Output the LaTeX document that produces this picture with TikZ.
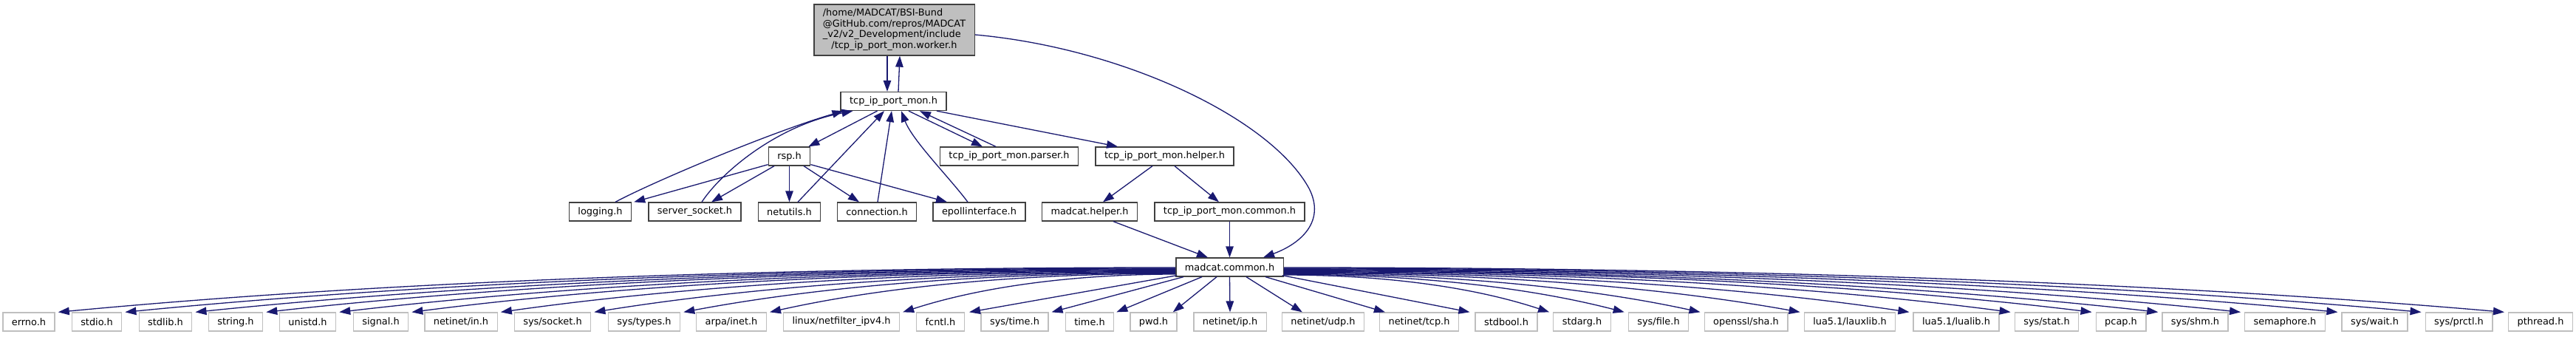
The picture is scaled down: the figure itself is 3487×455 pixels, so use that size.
\documentclass[tikz,border=0pt]{standalone}
\usepackage{fontspec}
\setmainfont{DejaVu Sans}
\usepackage{tikz}
\usetikzlibrary{arrows.meta}

\definecolor{edgeblue}{RGB}{25,25,112}
\definecolor{boxline}{RGB}{64,64,64}
\definecolor{sysline}{RGB}{191,191,191}
\definecolor{mainfill}{RGB}{191,191,191}

\tikzset{
  incbox/.style={draw=boxline, line width=1.3pt, fill=white, inner xsep=12pt, inner ysep=0pt,
    minimum height=25pt, font=\fontsize{12.9pt}{14.8pt}\selectfont},
  sysbox/.style={incbox, draw=sysline},
  mainbox/.style={incbox, fill=mainfill, minimum width=217pt, minimum height=69pt},
  incl/.style={draw=edgeblue, line width=1.3pt, -{Triangle[length=15pt,width=10.5pt]}},
}

\begin{document}
\begin{tikzpicture}[x=1pt, y=-1pt]
\useasboundingbox[fill=white] (0,0) rectangle (3487,455);

% Datei und direkte Includes
\node[mainbox] (worker) at (1210.5,40.5) {\begin{tabular}{@{}l@{}}/home/MADCAT/BSI-Bund\\@GitHub.com/repros/MADCAT\\\_v2/v2\_Development/include\\\multicolumn{1}{@{}c@{}}{/tcp\_ip\_port\_mon.worker.h}\end{tabular}};
\node[incbox] (tcp) at (1209.5,137) {tcp\_ip\_port\_mon.h};
\node[incbox] (rsp) at (1068.5,211.5) {rsp.h};
\node[incbox] (parser) at (1366,211.5) {tcp\_ip\_port\_mon.parser.h};
\node[incbox] (helper) at (1576.5,211.5) {tcp\_ip\_port\_mon.helper.h};
\node[incbox] (logging) at (812.5,286.5) {logging.h};
\node[incbox] (ssock) at (940.5,286.5) {server\_socket.h};
\node[incbox] (netutils) at (1068.5,286.5) {netutils.h};
\node[incbox] (connection) at (1187,286.5) {connection.h};
\node[incbox] (epoll) at (1325.5,286.5) {epollinterface.h};
\node[incbox] (mhelper) at (1475,286.5) {madcat.helper.h};
\node[incbox] (tcommon) at (1664.5,286.5) {tcp\_ip\_port\_mon.common.h};
\node[incbox] (mc) at (1664.5,361.5) {madcat.common.h};

% System-Header
\node[sysbox] (errno) at (39,435.5) {errno.h};
\node[sysbox] (stdio) at (131,435.5) {stdio.h};
\node[sysbox] (stdlib) at (224,435.5) {stdlib.h};
\node[sysbox] (string) at (319,435.5) {string.h};
\node[sysbox] (unistd) at (416.5,435.5) {unistd.h};
\node[sysbox] (signal) at (515.5,435.5) {signal.h};
\node[sysbox] (netin) at (624,435.5) {netinet/in.h};
\node[sysbox] (syssocket) at (748,435.5) {sys/socket.h};
\node[sysbox] (systypes) at (872,435.5) {sys/types.h};
\node[sysbox] (arpainet) at (990,435.5) {arpa/inet.h};
\node[sysbox] (netfilter) at (1139,435.5) {linux/netfilter\_ipv4.h};
\node[sysbox] (fcntl) at (1273,435.5) {fcntl.h};
\node[sysbox] (systime) at (1373.5,435.5) {sys/time.h};
\node[sysbox] (time) at (1475,435.5) {time.h};
\node[sysbox] (pwd) at (1561.5,435.5) {pwd.h};
\node[sysbox] (netip) at (1665,435.5) {netinet/ip.h};
\node[sysbox] (netudp) at (1791,435.5) {netinet/udp.h};
\node[sysbox] (nettcp) at (1921,435.5) {netinet/tcp.h};
\node[sysbox] (stdbool) at (2039,435.5) {stdbool.h};
\node[sysbox] (stdarg) at (2141.5,435.5) {stdarg.h};
\node[sysbox] (sysfile) at (2245,435.5) {sys/file.h};
\node[sysbox] (sha) at (2363.5,435.5) {openssl/sha.h};
\node[sysbox] (lauxlib) at (2504,435.5) {lua5.1/lauxlib.h};
\node[sysbox] (lualib) at (2648,435.5) {lua5.1/lualib.h};
\node[sysbox] (sysstat) at (2770.5,435.5) {sys/stat.h};
\node[sysbox] (pcap) at (2871,435.5) {pcap.h};
\node[sysbox] (sysshm) at (2971.5,435.5) {sys/shm.h};
\node[sysbox] (semaphore) at (3093,435.5) {semaphore.h};
\node[sysbox] (syswait) at (3214.5,435.5) {sys/wait.h};
\node[sysbox] (sysprctl) at (3328.5,435.5) {sys/prctl.h};
\node[sysbox] (pthread) at (3439,435.5) {pthread.h};

% worker <-> tcp_ip_port_mon.h
\draw[incl] ([xshift=-9.5pt]worker.south) -- ([xshift=-8.5pt]tcp.north);
\draw[incl] ([xshift=6.5pt]tcp.north) -- ([xshift=7.5pt]worker.south);
\draw[incl] ([yshift=-6.5pt]worker.east) .. controls (1520,65) and (1720,160) .. (1772,255) .. controls (1795,300) and (1760,330) .. ([xshift=45.5pt]mc.north);

% tcp_ip_port_mon.h
\draw[incl] ([xshift=-22pt]tcp.south) -- ([xshift=-3pt]rsp.north east);
\draw[incl] ([xshift=20.5pt]tcp.south) -- ([xshift=-36pt]parser.north);
\draw[incl] ([xshift=-18pt]parser.north) -- ([xshift=35.5pt]tcp.south);
\draw[incl] ([xshift=58.5pt]tcp.south) -- ([xshift=-63.5pt]helper.north);
\draw[incl] ([xshift=20.5pt]logging.north) .. controls (880,248) and (1040,180) .. ([xshift=4pt]tcp.south west);
\draw[incl] ([xshift=9.5pt]ssock.north) .. controls (975,235) and (1050,170) .. ([xshift=17pt]tcp.south west);
\draw[incl] ([xshift=11.5pt]netutils.north) -- ([xshift=-12.5pt]tcp.south);
\draw[incl] ([xshift=1pt]connection.north) -- ([xshift=-2.5pt]tcp.south);
\draw[incl] ([xshift=-15.5pt]epoll.north) .. controls (1285,240) and (1235,190) .. ([xshift=10.5pt]tcp.south);

% rsp.h
\draw[incl] ([yshift=2pt]rsp.south west) -- ([xshift=3pt]logging.north east);
\draw[incl] ([xshift=-20.5pt]rsp.south) -- ([xshift=22.5pt]ssock.north);
\draw[incl] (rsp.south) -- (netutils.north);
\draw[incl] ([xshift=19.5pt]rsp.south) -- ([xshift=-24pt]connection.north);
\draw[incl] ([yshift=2pt]rsp.south east) -- ([xshift=-43.5pt]epoll.north);

% helper -> madcat.common.h
\draw[incl] ([xshift=-16.5pt]helper.south) -- ([xshift=18pt]mhelper.north);
\draw[incl] ([xshift=13.5pt]helper.south) -- ([xshift=-14.5pt]tcommon.north);
\draw[incl] ([xshift=32pt]mhelper.south) -- ([xshift=-29.5pt]mc.north);
\draw[incl] (tcommon.south) -- (mc.north);

% madcat.common.h nach links
\draw[incl] ([yshift=-0.5pt]mc.west) .. controls +(-530,0) and +(455,-43) .. ([xshift=4pt]errno.north east);
\draw[incl] ([yshift=-1.4pt]mc.west) .. controls +(-498,0) and +(427,-42) .. ([xshift=4pt]stdio.north east);
\draw[incl] ([yshift=-2.3pt]mc.west) .. controls +(-465,0) and +(399,-41) .. ([xshift=4pt]stdlib.north east);
\draw[incl] ([yshift=-3.2pt]mc.west) .. controls +(-432,0) and +(370,-41) .. ([xshift=4pt]string.north east);
\draw[incl] ([yshift=-4.1pt]mc.west) .. controls +(-397,0) and +(341,-40) .. ([xshift=4pt]unistd.north east);
\draw[incl] ([yshift=-5pt]mc.west) .. controls +(-363,0) and +(311,-40) .. ([xshift=4pt]signal.north east);
\draw[incl] ([yshift=-5.9pt]mc.west) .. controls +(-321,0) and +(275,-39) .. ([xshift=4pt]netin.north east);
\draw[incl] ([yshift=-6.8pt]mc.west) .. controls +(-276,0) and +(236,-38) .. ([xshift=4pt]syssocket.north east);
\draw[incl] ([yshift=-7.7pt]mc.west) .. controls +(-234,0) and +(201,-38) .. ([xshift=4pt]systypes.north east);
\draw[incl] ([yshift=-8.6pt]mc.west) .. controls +(-194,0) and +(166,-37) .. ([xshift=4pt]arpainet.north east);
\draw[incl] ([yshift=-9.5pt]mc.west) .. controls +(-130,0) and +(111,-36) .. ([xshift=4pt]netfilter.north east);
\draw[incl] ([xshift=2pt,yshift=2pt]mc.south west) -- ([xshift=6pt]fcntl.north east);
\draw[incl] ([xshift=-62.5pt]mc.south) -- ([xshift=4pt]systime.north east);
\draw[incl] ([xshift=-37.5pt]mc.south) -- ([xshift=3pt]time.north east);
\draw[incl] ([xshift=-17.5pt]mc.south) -- ([xshift=-6pt]pwd.north east);

% madcat.common.h nach unten und rechts
\draw[incl] (mc.south) -- (netip.north);
\draw[incl] ([xshift=22.5pt]mc.south) -- ([xshift=28pt]netudp.north west);
\draw[incl] ([xshift=48.5pt]mc.south) -- ([xshift=8pt]nettcp.north west);
\draw[incl] ([xshift=-2pt,yshift=2pt]mc.south east) -- ([xshift=-7pt]stdbool.north west);
\draw[incl] ([yshift=-10.5pt]mc.east) .. controls +(127,0) and +(-109,-36) .. ([xshift=-5pt]stdarg.north west);
\draw[incl] ([yshift=-9.6pt]mc.east) .. controls +(162,0) and +(-139,-36) .. ([xshift=-5pt]sysfile.north west);
\draw[incl] ([yshift=-8.7pt]mc.east) .. controls +(198,0) and +(-170,-37) .. ([xshift=-5pt]sha.north west);
\draw[incl] ([yshift=-7.8pt]mc.east) .. controls +(246,0) and +(-211,-38) .. ([xshift=-5pt]lauxlib.north west);
\draw[incl] ([yshift=-6.9pt]mc.east) .. controls +(297,0) and +(-254,-38) .. ([xshift=-5pt]lualib.north west);
\draw[incl] ([yshift=-6pt]mc.east) .. controls +(345,0) and +(-296,-39) .. ([xshift=-5pt]sysstat.north west);
\draw[incl] ([yshift=-5pt]mc.east) .. controls +(384,0) and +(-329,-40) .. ([xshift=-5pt]pcap.north west);
\draw[incl] ([yshift=-4.1pt]mc.east) .. controls +(415,0) and +(-356,-40) .. ([xshift=-5pt]sysshm.north west);
\draw[incl] ([yshift=-3.2pt]mc.east) .. controls +(454,0) and +(-389,-41) .. ([xshift=-5pt]semaphore.north west);
\draw[incl] ([yshift=-2.3pt]mc.east) .. controls +(500,0) and +(-429,-41) .. ([xshift=-5pt]syswait.north west);
\draw[incl] ([yshift=-1.4pt]mc.east) .. controls +(540,0) and +(-463,-42) .. ([xshift=-5pt]sysprctl.north west);
\draw[incl] ([yshift=-0.5pt]mc.east) .. controls +(579,0) and +(-497,-43) .. ([xshift=-5pt]pthread.north west);

\end{tikzpicture}
\end{document}
